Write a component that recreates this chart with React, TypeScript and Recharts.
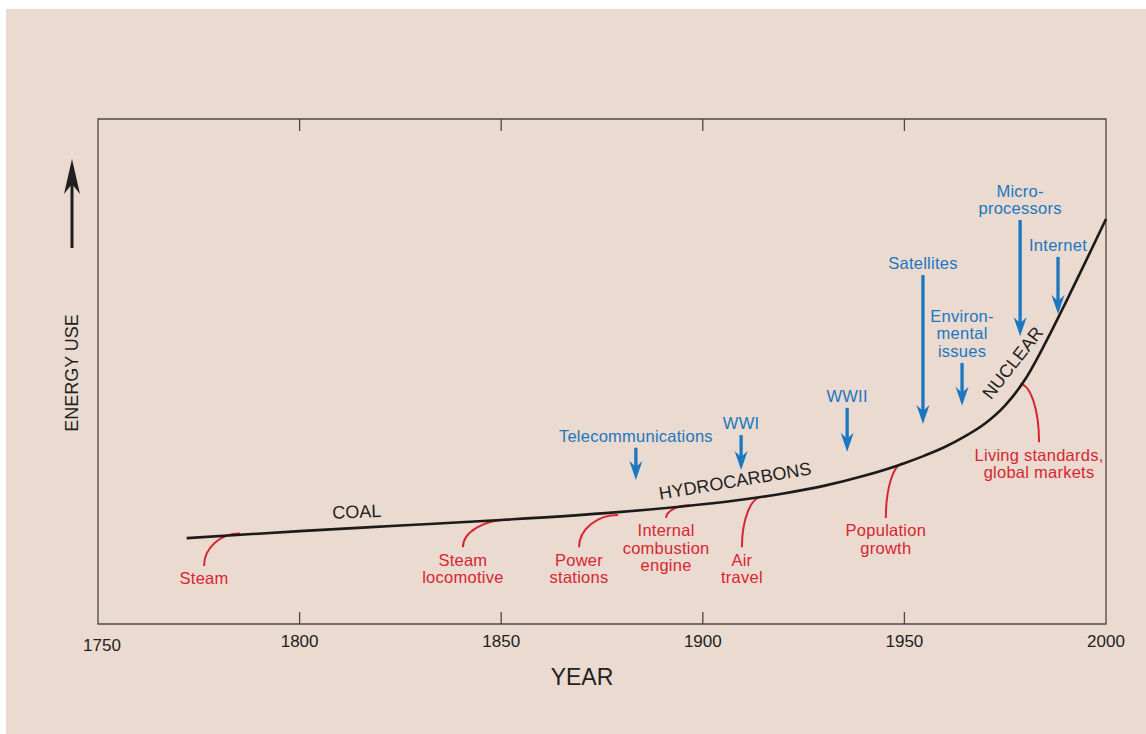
import React from 'react'
import {
  LineChart,
  Line,
  XAxis,
  YAxis,
  ReferenceArea,
  ReferenceLine,
  ReferenceDot,
} from 'recharts'

// main energy-use curve
const years = [1772, 1800, 1825, 1850, 1875, 1900, 1910, 1920, 1930, 1940, 1950, 1955, 1960, 1965, 1970, 1975, 1980, 1985, 1990, 1995, 2000]
const energy = [17.0, 18.4, 19.5, 20.6, 21.9, 23.7, 24.65, 25.85, 27.35, 29.35, 31.85, 33.35, 35.05, 37.15, 39.7, 43.3, 48.5, 55.7, 63.65, 71.85, 80.2]

const yearTicks = [1750, 1800, 1850, 1900, 1950, 2000]

// energy sources written along the curve
const eraNames = ['COAL', 'HYDROCARBONS', 'NUCLEAR']
const eraYears = [1814.2, 1908.0, 1976.9]
const eraLevels = [22.2, 28.3, 51.7]

// red: drivers that feed into the curve
const causeLabels = [
  ['Steam'],
  ['Steam', 'locomotive'],
  ['Power', 'stations'],
  ['Internal', 'combustion', 'engine'],
  ['Air', 'travel'],
  ['Population', 'growth'],
  ['Living standards,', 'global markets'],
]
const causeYears = [1776.3, 1840.5, 1869.3, 1890.9, 1909.7, 1945.4, 1983.4]
const causeLevels = [11.5, 15.2, 15.2, 21.0, 15.2, 21.0, 36.0]
const causeJoinYears = [1785.2, 1852.2, 1879.0, 1896.8, 1914.7, 1949.7, 1978.7]
const causeJoinLevels = [17.9, 20.7, 21.6, 23.5, 25.2, 31.8, 47.5]

// blue: events, arrows pointing down
const eventLabels = [
  ['Telecommunications'],
  ['WWI'],
  ['WWII'],
  ['Satellites'],
  ['Environ-', 'mental', 'issues'],
  ['Micro-', 'processors'],
  ['Internet'],
]
const eventYears = [1883.4, 1909.5, 1935.8, 1954.6, 1964.3, 1978.7, 1988.1]
const eventFrom = [34.9, 37.4, 42.8, 69.1, 51.7, 80.0, 72.7]
const eventTo = [28.5, 30.5, 34.1, 39.6, 43.2, 57.0, 61.4]

const data = years.map((y, i) => ({ year: y, energy: energy[i] }))

const FONT = '"Liberation Sans", Arial, Helvetica, sans-serif'
const RED = '#d72631'
const BLUE = '#1b77bf'
const INK = '#231f20'
const FRAME = '#4d4647'
const BG = '#eadad0'
const eraAngles = [-2, -9.5, -52]

const BottomTick = (props: any) => {
  const { x, y, payload } = props
  const v = payload.value
  const inner = v !== 1750 && v !== 2000
  return (
    <g>
      {inner && <line x1={x} y1={y} x2={x} y2={y - 12} stroke={FRAME} strokeWidth={1.3} />}
      <text
        x={v === 1750 ? x + 4 : x}
        y={v === 1750 ? y + 21 : y + 17}
        textAnchor="middle"
        dominantBaseline="central"
        fontFamily={FONT}
        fontSize={17}
        fill={INK}
      >
        {v}
      </text>
    </g>
  )
}

const TopTick = (props: any) => {
  const { x, y, payload } = props
  const v = payload.value
  if (v === 1750 || v === 2000) return <g />
  return <line x1={x} y1={y} x2={x} y2={y + 12} stroke={FRAME} strokeWidth={1.3} />
}

const leaderShape = (lines: string[]) => (p: any) => {
  const { x1, y1, x2, y2 } = p
  const d = `M${x1},${y1} C${x1},${y1 + (y2 - y1) * 0.55} ${x1 + (x2 - x1) * 0.45},${y2} ${x2},${y2}`
  return (
    <g>
      <path d={d} fill="none" stroke={RED} strokeWidth={2} />
      {lines.map((t, i) => (
        <text
          key={t}
          x={x1}
          y={y1 + 12.5 + i * 17.5}
          textAnchor="middle"
          dominantBaseline="central"
          fontFamily={FONT}
          fontSize={16.5}
          letterSpacing={0.25}
          fill={RED}
        >
          {t}
        </text>
      ))}
    </g>
  )
}

const arrowShape = (lines: string[]) => (p: any) => {
  const { x1, y1, x2, y2 } = p
  const n = lines.length
  return (
    <g>
      <line x1={x1} y1={y1} x2={x2} y2={y2 - 13} stroke={BLUE} strokeWidth={3.3} />
      <polygon
        points={`${x2},${y2} ${x2 - 6.5},${y2 - 19} ${x2},${y2 - 13} ${x2 + 6.5},${y2 - 19}`}
        fill={BLUE}
      />
      {lines.map((t, i) => (
        <text
          key={t}
          x={x1}
          y={y1 - 12 - (n - 1 - i) * 17.5}
          textAnchor="middle"
          dominantBaseline="central"
          fontFamily={FONT}
          fontSize={16.5}
          letterSpacing={0.25}
          fill={BLUE}
        >
          {t}
        </text>
      ))}
    </g>
  )
}

const eraShape = (name: string, angle: number) => (p: any) => {
  const { cx, cy } = p
  return (
    <text
      x={cx}
      y={cy}
      textAnchor="middle"
      dominantBaseline="central"
      transform={`rotate(${angle} ${cx} ${cy})`}
      fontFamily={FONT}
      fontSize={18}
      fill={INK}
    >
      {name}
    </text>
  )
}

export default function App() {
  return (
    <div style={{ position: 'absolute', left: 0, top: 0, width: 1146, height: 734, background: '#fff' }}>
      <div style={{ position: 'absolute', left: 6, top: 9, width: 1140, height: 725, background: BG }} />
      <div style={{ position: 'absolute', left: 0, top: 0 }}>
        <LineChart
          width={1146}
          height={734}
          data={data}
          margin={{ top: 118, right: 40, bottom: 70, left: 98 }}
        >
          <XAxis
            dataKey="year"
            type="number"
            domain={[1750, 2000]}
            ticks={yearTicks}
            height={40}
            axisLine={false}
            tickLine={false}
            tickSize={0}
            tickMargin={0}
            tick={<BottomTick />}
            interval={0}
          />
          <XAxis
            xAxisId="top"
            orientation="top"
            dataKey="year"
            type="number"
            domain={[1750, 2000]}
            ticks={yearTicks}
            height={1}
            axisLine={false}
            tickLine={false}
            tickSize={0}
            tickMargin={0}
            tick={<TopTick />}
            interval={0}
          />
          <YAxis hide type="number" domain={[0, 100]} />
          <ReferenceArea
            x1={1750}
            x2={2000}
            y1={0}
            y2={100}
            fill="none"
            stroke={FRAME}
            strokeWidth={1.3}
            ifOverflow="visible"
          />
          {causeLabels.map((lines, i) => (
            <ReferenceLine
              key={'c' + i}
              segment={[
                { x: causeYears[i], y: causeLevels[i] },
                { x: causeJoinYears[i], y: causeJoinLevels[i] },
              ]}
              ifOverflow="visible"
              shape={leaderShape(lines)}
            />
          ))}
          {eventLabels.map((lines, i) => (
            <ReferenceLine
              key={'e' + i}
              segment={[
                { x: eventYears[i], y: eventFrom[i] },
                { x: eventYears[i], y: eventTo[i] },
              ]}
              ifOverflow="visible"
              shape={arrowShape(lines)}
            />
          ))}
          {eraNames.map((name, i) => (
            <ReferenceDot
              key={name}
              x={eraYears[i]}
              y={eraLevels[i]}
              r={0}
              ifOverflow="visible"
              shape={eraShape(name, eraAngles[i])}
            />
          ))}
          <Line
            type="monotone"
            dataKey="energy"
            stroke="#1d1a1a"
            strokeWidth={2.6}
            dot={false}
            isAnimationActive={false}
          />
        </LineChart>
      </div>
      <svg
        width={1146}
        height={734}
        style={{ position: 'absolute', left: 0, top: 0, pointerEvents: 'none' }}
      >
        <line x1={72} y1={248} x2={72} y2={184} stroke={INK} strokeWidth={3} />
        <polygon points="72,159 64,194 72,184 80,194" fill={INK} />
        <text
          x={72}
          y={373}
          textAnchor="middle"
          dominantBaseline="central"
          transform="rotate(-90 72 373)"
          fontFamily={FONT}
          fontSize={18}
          fill={INK}
        >
          ENERGY USE
        </text>
        <text
          x={582}
          y={677}
          textAnchor="middle"
          dominantBaseline="central"
          fontFamily={FONT}
          fontSize={23}
          fill={INK}
        >
          YEAR
        </text>
      </svg>
    </div>
  )
}
